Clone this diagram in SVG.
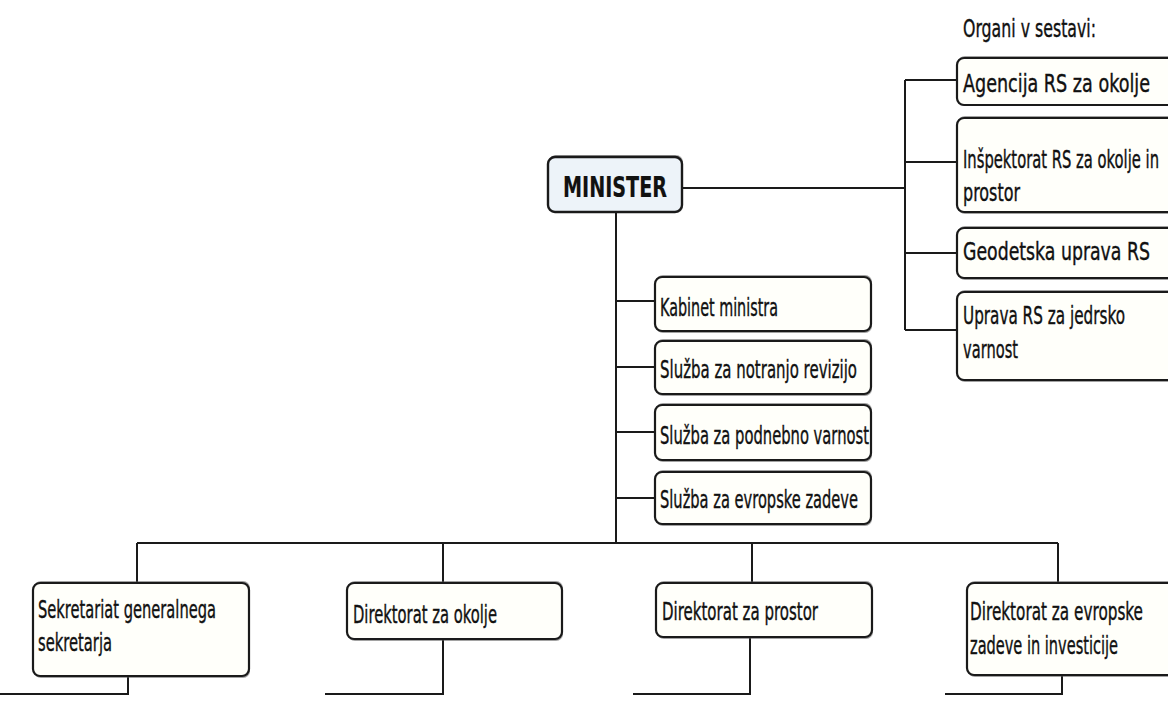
<svg xmlns="http://www.w3.org/2000/svg" width="1168" height="704" viewBox="0 0 1168 704">
<style>
.bg{fill:#ffffff}
.box{fill:#fffffa;stroke:#1a1a1a;stroke-width:2.2}
.min{fill:#edf3f9;stroke:#1a1a1a;stroke-width:2.4}
.sh{fill:#555;opacity:0.55}
.ln{stroke:#1a1a1a;stroke-width:2;fill:none}
text{font-family:"DejaVu Sans","Liberation Sans",sans-serif;fill:#111;stroke:#111;stroke-width:0.22;font-size:13px}
.big{font-size:28px;font-weight:bold;stroke-width:0.2}
</style>
<rect class="bg" x="0" y="0" width="1168" height="704"/>
<g id="connectors">
<path class="ln" d="M682 188H905M905 80V330M905 80H958M905 162H958M905 253H958M905 330H958"/>
<path class="ln" d="M616 212V543M616 301H655M616 367H655M616 432H655M616 498H655"/>
<path class="ln" d="M137 543H1058M137 543V583M443 543V583M752 543V583M1058 543V583"/>
<path class="ln" d="M128 676V694H0M443 639V694H325M750 637V694H633M1062 675V694H945"/>
</g>
<g id="minister">
<rect class="sh" x="549" y="155" width="134" height="58" rx="7"/>
<rect class="min" x="548" y="157" width="134" height="55" rx="7"/>
<text class="big" x="563" y="197" textLength="104" lengthAdjust="spacingAndGlyphs">MINISTER</text>
</g>
<g id="organi-label">
<text transform="translate(963,37) scale(1,1.92)" textLength="133" lengthAdjust="spacingAndGlyphs">Organi v sestavi:</text>
</g>
<g id="agencija">
<rect class="sh" x="958" y="56" width="220" height="50" rx="7"/>
<rect class="box" x="957" y="58" width="220" height="47" rx="7"/>
<text transform="translate(963,92) scale(1,1.92)" textLength="187" lengthAdjust="spacingAndGlyphs">Agencija RS za okolje</text>
</g>
<g id="inspektorat">
<rect class="sh" x="958" y="116" width="220" height="98" rx="7"/>
<rect class="box" x="957" y="118" width="220" height="94" rx="7"/>
<text transform="translate(963,168) scale(1,1.92)" textLength="196" lengthAdjust="spacingAndGlyphs">Inšpektorat RS za okolje in</text>
<text transform="translate(963,201) scale(1,1.92)" textLength="57" lengthAdjust="spacingAndGlyphs">prostor</text>
</g>
<g id="geodetska">
<rect class="sh" x="958" y="226" width="220" height="54" rx="7"/>
<rect class="box" x="957" y="228" width="220" height="50" rx="7"/>
<text transform="translate(963,260) scale(1,1.92)" textLength="187" lengthAdjust="spacingAndGlyphs">Geodetska uprava RS</text>
</g>
<g id="uprava">
<rect class="sh" x="958" y="290" width="220" height="92" rx="7"/>
<rect class="box" x="957" y="292" width="220" height="88" rx="7"/>
<text transform="translate(963,324) scale(1,1.92)" textLength="162" lengthAdjust="spacingAndGlyphs">Uprava RS za jedrsko</text>
<text transform="translate(963,358) scale(1,1.92)" textLength="55" lengthAdjust="spacingAndGlyphs">varnost</text>
</g>
<g id="kabinet">
<rect class="sh" x="656" y="275" width="216" height="58" rx="7"/>
<rect class="box" x="655" y="277" width="216" height="54" rx="7"/>
<text transform="translate(660,316) scale(1,1.92)" textLength="118" lengthAdjust="spacingAndGlyphs">Kabinet ministra</text>
</g>
<g id="revizija">
<rect class="sh" x="656" y="339" width="216" height="57" rx="7"/>
<rect class="box" x="655" y="341" width="216" height="53" rx="7"/>
<text transform="translate(660,378) scale(1,1.92)" textLength="197" lengthAdjust="spacingAndGlyphs">Služba za notranjo revizijo</text>
</g>
<g id="podnebno">
<rect class="sh" x="656" y="403" width="216" height="59" rx="7"/>
<rect class="box" x="655" y="405" width="216" height="55" rx="7"/>
<text transform="translate(660,444) scale(1,1.92)" textLength="209" lengthAdjust="spacingAndGlyphs">Služba za podnebno varnost</text>
</g>
<g id="evropske">
<rect class="sh" x="656" y="470" width="216" height="56" rx="7"/>
<rect class="box" x="655" y="472" width="216" height="52" rx="7"/>
<text transform="translate(660,508) scale(1,1.92)" textLength="198" lengthAdjust="spacingAndGlyphs">Služba za evropske zadeve</text>
</g>
<g id="sekretariat">
<rect class="sh" x="34" y="581" width="216" height="97" rx="7"/>
<rect class="box" x="33" y="583" width="216" height="93" rx="7"/>
<text transform="translate(38,618) scale(1,1.92)" textLength="178" lengthAdjust="spacingAndGlyphs">Sekretariat generalnega</text>
<text transform="translate(38,651) scale(1,1.92)" textLength="74" lengthAdjust="spacingAndGlyphs">sekretarja</text>
</g>
<g id="dir-okolje">
<rect class="sh" x="348" y="581" width="215" height="60" rx="7"/>
<rect class="box" x="347" y="583" width="215" height="56" rx="7"/>
<text transform="translate(353,623) scale(1,1.92)" textLength="144" lengthAdjust="spacingAndGlyphs">Direktorat za okolje</text>
</g>
<g id="dir-prostor">
<rect class="sh" x="657" y="581" width="216" height="58" rx="7"/>
<rect class="box" x="656" y="583" width="216" height="54" rx="7"/>
<text transform="translate(662,620) scale(1,1.92)" textLength="156" lengthAdjust="spacingAndGlyphs">Direktorat za prostor</text>
</g>
<g id="dir-evropske">
<rect class="sh" x="968" y="581" width="215" height="96" rx="7"/>
<rect class="box" x="967" y="583" width="215" height="92" rx="7"/>
<text transform="translate(970,620) scale(1,1.92)" textLength="173" lengthAdjust="spacingAndGlyphs">Direktorat za evropske</text>
<text transform="translate(970,654) scale(1,1.92)" textLength="148" lengthAdjust="spacingAndGlyphs">zadeve in investicije</text>
</g>
</svg>
